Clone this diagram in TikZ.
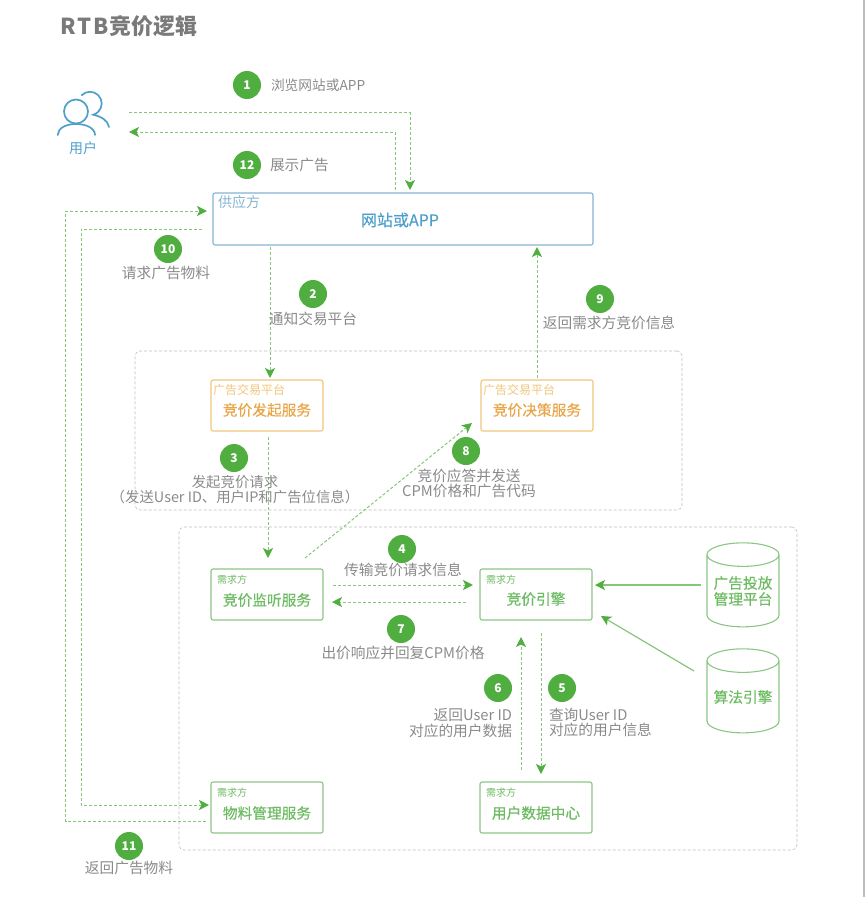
\documentclass[tikz,border=0pt]{standalone}
\usepackage{fontspec}
\setmainfont{Noto Sans CJK SC}
\newfontfamily\medfont[FakeBold=0.35]{Noto Sans CJK SC}
\usepackage{tikz}
\usetikzlibrary{arrows.meta,shapes.geometric}
\definecolor{gnline}{HTML}{86C67A}
\definecolor{gntip}{HTML}{4FAE3F}
\definecolor{gnbox}{HTML}{8CC685}
\definecolor{gntext}{HTML}{6DBB62}
\definecolor{orbox}{HTML}{F0C67C}
\definecolor{ortext}{HTML}{E9A648}
\definecolor{blbox}{HTML}{86B4D2}
\definecolor{bltext}{HTML}{4F9FCB}
\definecolor{txt}{HTML}{8A8A8A}
\definecolor{edgebar}{HTML}{BDBDBD}
\tikzset{
  every node/.style={inner sep=0pt,outer sep=0pt,align=center},
  flowline/.style={draw=gnline,line width=1pt,dash pattern=on 3pt off 2pt},
  flow/.style={flowline,-{Stealth[length=10pt,width=10pt,inset=2.5pt,color=gntip]}},
  solidflow/.style={draw=gnline,line width=1.2pt,-{Stealth[length=10pt,width=10pt,inset=2.5pt,color=gntip]}},
  region/.style={draw=black!25,line width=0.6pt,dash pattern=on 3pt off 2pt,rounded corners=5pt},
  badge/.style={circle,fill=gntip,text=white,minimum size=28pt,font=\fontsize{12}{12}\selectfont\bfseries},
  caption/.style={text=txt,font=\fontsize{14.7}{15.5}\selectfont},
  svcbox/.style={draw=gnbox,line width=1.1pt,rounded corners=2pt,minimum width=112pt,minimum height=51pt,fill=white},
  adxbox/.style={svcbox,draw=orbox},
  tagdemand/.style={anchor=west,text=gntext,font=\fontsize{10}{10}\selectfont},
  tagadx/.style={anchor=west,text=orbox,font=\fontsize{12}{12}\selectfont},
  mainname/.style={font=\fontsize{14.7}{14.7}\medfont},
  dbstore/.style={cylinder,shape border rotate=90,aspect=0.4,draw=gnbox,line width=1.1pt,minimum width=72pt,minimum height=84pt,text=gntext,font=\fontsize{14.7}{16}\medfont}
}
\begin{document}
\begin{tikzpicture}[x=1pt,y=-1pt]
\useasboundingbox (0,0) rectangle (865,897);
\fill[edgebar] (863,0) rectangle (865,897);
% title
\node[anchor=west,text=black!52,font=\fontsize{22}{22}\selectfont\bfseries] (title) at (60,26) {R\kern2pt T\kern2pt B\kern1pt 竞价逻辑};
% regions
\node[region,minimum width=547pt,minimum height=159pt] (adxzone) at (408.5,430.5) {};
\node[region,minimum width=618pt,minimum height=323pt] (dspzone) at (488,688.5) {};
% user icon
\draw[bltext,line width=1.7pt,line cap=round] (81.7,95.2) arc (225:434:11.7) .. controls (100,116) and (108,120) .. (109,127);
\draw[bltext,line width=1.7pt] (76,111.5) circle (12);
\draw[bltext,line width=1.7pt,line cap=round] (57.7,135) .. controls (58,128) and (66,124) .. (76,124) .. controls (86,124) and (95,128) .. (95,135);
\node[text=bltext,font=\fontsize{14}{14}\selectfont] (user) at (83,148) {用户};
% boxes
\node[draw=blbox,line width=1.1pt,rounded corners=2pt,minimum width=380pt,minimum height=52pt,anchor=north west] (site) at (213,193) {};
\node[anchor=west,text=blbox,font=\fontsize{14}{14}\selectfont] (sitetag) at (218,202.5) {供应方};
\node[text=bltext,font=\fontsize{16}{16}\medfont] (sitename) at (400,220) {网站或APP};
\node[adxbox,anchor=north west] (start) at (211,380) {};
\node[tagadx] at (213,390) {广告交易平台};
\node[mainname,text=ortext] at (267,410) {竞价发起服务};
\node[adxbox,anchor=north west] (decide) at (481,380) {};
\node[tagadx] at (483,390) {广告交易平台};
\node[mainname,text=ortext] at (537,410) {竞价决策服务};
\node[svcbox,anchor=north west] (listen) at (211,569) {};
\node[tagdemand] at (217,580) {需求方};
\node[mainname,text=gntext] at (267,600) {竞价监听服务};
\node[svcbox,anchor=north west] (engine) at (480,569) {};
\node[tagdemand] at (486,580) {需求方};
\node[mainname,text=gntext] at (536,599) {竞价引擎};
\node[svcbox,anchor=north west] (udata) at (480,782) {};
\node[tagdemand] at (486,793) {需求方};
\node[mainname,text=gntext] at (536,813) {用户数据中心};
\node[svcbox,anchor=north west] (material) at (211,782) {};
\node[tagdemand] at (217,793) {需求方};
\node[mainname,text=gntext] at (267,813) {物料管理服务};
\node[dbstore] (adplat) at (743,591) {广告投放\\管理平台};
\node[dbstore] (algo) at (743,697) {算法引擎};
% free ends of the connectors
\coordinate (u1) at (129,112.5);
\coordinate (u12) at (129,132);
\coordinate (s1) at (410,190);
\coordinate (s12) at (395,190);
\coordinate (s2) at (270,247);
\coordinate (s9) at (537,247);
\coordinate (s10) at (202,229);
\coordinate (s11) at (207,211);
\coordinate (m10) at (209,805);
\coordinate (m11) at (206,821);
\coordinate (k10) at (81,229);
\coordinate (k11) at (65.5,821);
\coordinate (a2) at (270,378);
\coordinate (a3) at (268,437);
\coordinate (l3) at (268,558);
\coordinate (l8) at (305,558);
\coordinate (d8) at (472,423);
\coordinate (d9) at (537,378);
\coordinate (l4) at (333,585);
\coordinate (e4) at (473,585);
\coordinate (e7) at (466,602);
\coordinate (l7) at (332,602);
\coordinate (e6) at (521,637);
\coordinate (e5) at (541,633);
\coordinate (c6) at (521,770);
\coordinate (c5) at (541,774);
\coordinate (e0) at (595,585);
\coordinate (p0) at (701,585);
\coordinate (e1) at (601,616);
\coordinate (q0) at (694,671);
% connectors
\draw[flow] (u1) -| (s1);
\draw[flow] (s12) |- (u12);
\draw[flow] (s10) -- (k10) |- (m10);
\draw[flow] (m11) -- (k11) |- (s11);
\draw[flow] (s2) -- (a2);
\draw[flow] (d9) -- (s9);
\draw[flow] (a3) -- (l3);
\draw[flow] (l8) -- (d8);
\draw[flow] (l4) -- (e4);
\draw[flow] (e7) -- (l7);
\draw[flow] (c6) -- (e6);
\draw[flow] (e5) -- (c5);
\draw[solidflow] (p0) -- (e0);
\draw[solidflow] (q0) -- (e1);
% numbers
\node[badge] (b1) at (247,85) {1};
\node[badge] (b2) at (313,294) {2};
\node[badge] (b3) at (234,458) {3};
\node[badge] (b4) at (402,549) {4};
\node[badge] (b5) at (562,688) {5};
\node[badge] (b6) at (498,688) {6};
\node[badge] (b7) at (401,629) {7};
\node[badge] (b8) at (466,451) {8};
\node[badge] (b9) at (600,299) {9};
\node[badge] (b10) at (168,249) {10};
\node[badge] (b11) at (129,846) {11};
\node[badge] (b12) at (247,165) {12};
% captions
\node[caption,anchor=west,font=\fontsize{13.7}{15}\selectfont] (t1) at (271,85) {浏览网站或APP};
\node[caption,anchor=west] (t12) at (270,165) {展示广告};
\node[caption] (t10) at (166,273) {请求广告物料};
\node[caption] (t2) at (313,319) {通知交易平台};
\node[caption] (t9) at (609,323) {返回需求方竞价信息};
\node[caption,font=\fontsize{14.4}{15.5}\selectfont] (t3) at (235,489.5) {发起竞价请求\\（发送User ID、用户IP和广告位信息）};
\node[caption] (t8) at (469,483.5) {竞价应答并发送\\CPM价格和广告代码};
\node[caption] (t4) at (403,570) {传输竞价请求信息};
\node[caption] (t7) at (403,653) {出价响应并回复CPM价格};
\node[caption,align=right,anchor=east] (t6) at (512,723) {返回User ID\\对应的用户数据};
\node[caption,align=left,anchor=west] (t5) at (549,722.5) {查询User ID\\对应的用户信息};
\node[caption] (t11) at (129,868) {返回广告物料};
\end{tikzpicture}
\end{document}
